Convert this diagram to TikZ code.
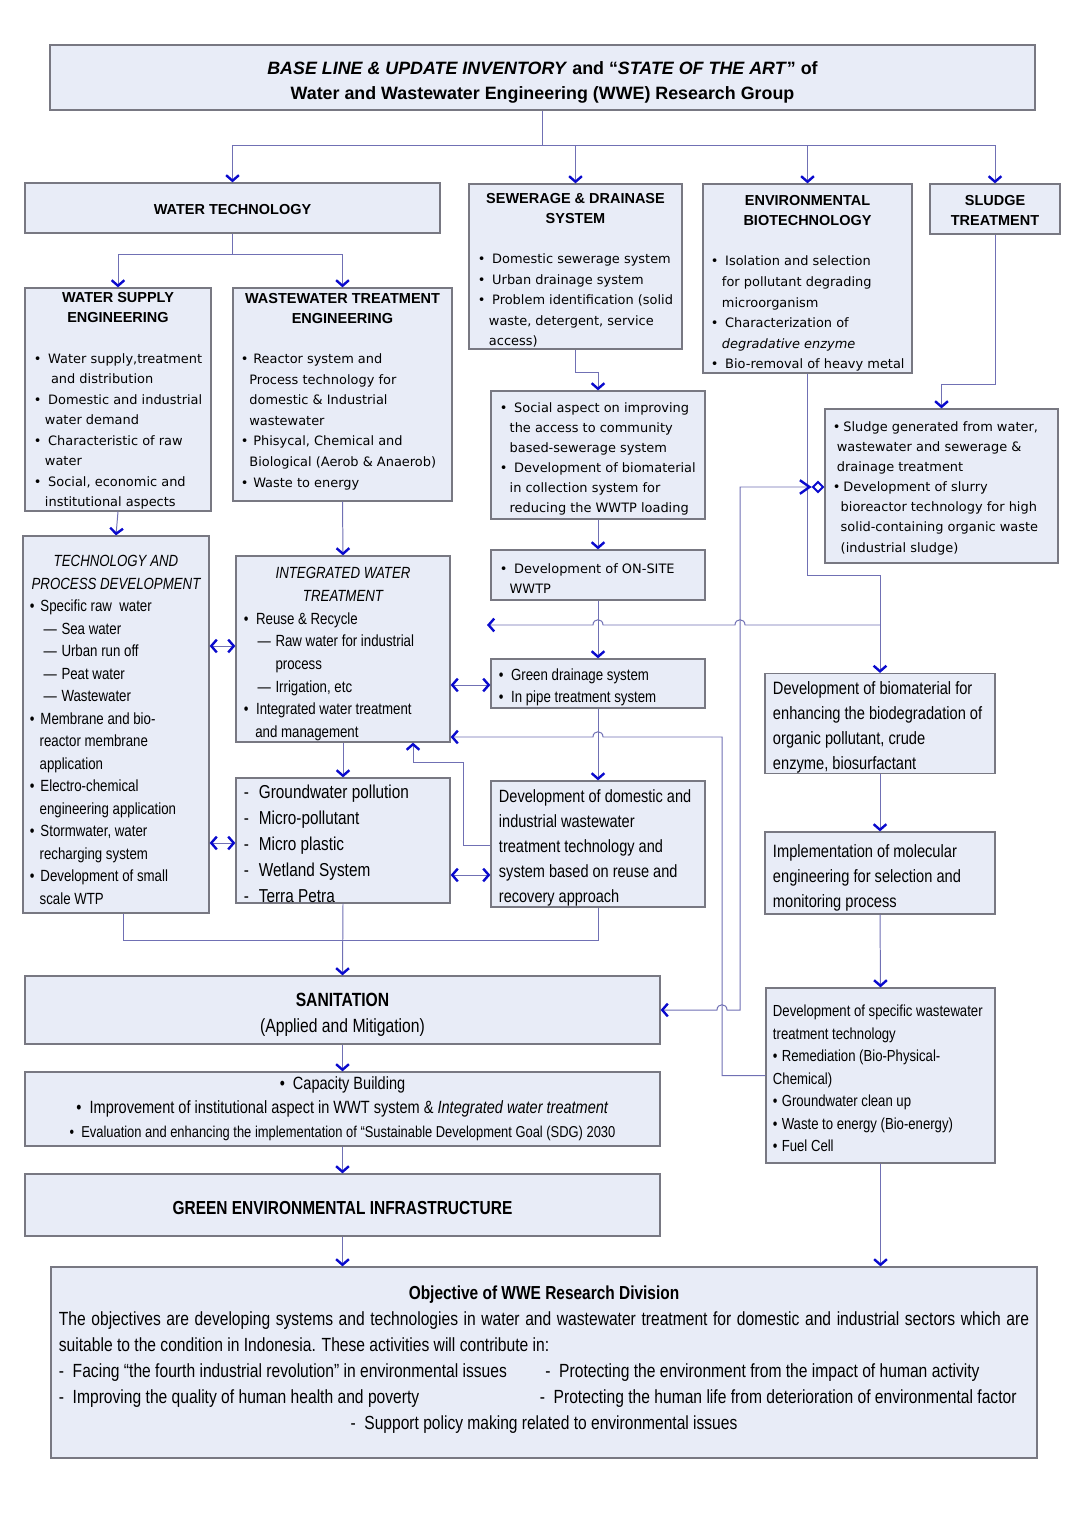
\documentclass[tikz,border=0pt]{standalone}
\usepackage{fontspec}
\setmainfont{Liberation Sans}
\newfontfamily\verdana{DejaVu Sans}
\newfontfamily\narrow[FakeStretch=0.82]{Liberation Sans}
\usepackage{xcolor}
\usepackage{tikz}
\usetikzlibrary{positioning, calc, arrows.meta}
\definecolor{wweFill}{RGB}{232, 236, 247}
\definecolor{wweEdge}{RGB}{120, 120, 130}
\definecolor{wweLine}{RGB}{112, 112, 180}
\definecolor{wweTip}{RGB}{10, 10, 205}
\newcommand{\fs}[2]{\fontsize{#1}{#2}\selectfont}
\newcommand{\titlef}{\bfseries\fs{12.7}{17.8}}
\newcommand{\headf}{\normalfont\bfseries\fs{10.3}{14.2}}
\newcommand{\verdf}{\verdana\fs{9.2}{14.6}}
\newlength{\rowwd}
\newcommand{\li}[1]{\makebox[\rowwd][l]{#1}}
\newcommand{\bul}[1][1.1em]{\makebox[#1][l]{•}}
\newcommand{\ind}[1][0.85em]{\hspace*{#1}}
\newcommand{\sub}[1]{\hspace*{0.85em}\makebox[1.1em][l]{—}#1}
\newcommand{\lift}[1]{\rule{0pt}{#1}}
\newcommand{\sink}[1]{\rule[-#1]{0pt}{#1}}
\tikzset{
    panel/.style={
        draw=wweEdge,
        fill=wweFill,
        line width=0.9pt,
        inner sep=0pt
    },
    boxspan/.style n args={4}{
        minimum width={(#3-#1)*0.025cm},
        minimum height={(#4-#2)*0.025cm},
        at={({(#1+#3)/2},{(#2+#4)/2})}
    },
    listbox/.style={
        align=center,
        execute at begin node={\setlength{\rowwd}{#1}}
    },
    link/.style={
        draw=wweLine,
        line width=0.7pt
    },
    flow/.style={
        link,
        ->
    },
    twoway/.style={
        link,
        <->
    },
    sludgetip/.style={
        link,
        {Straight Barb[color=wweTip, line width=1.7pt, length=1.4mm, width=3.2mm]}-{Straight Barb[color=wweTip, line width=1.7pt, length=2.4mm, width=3.4mm] Diamond[open, color=wweTip, line width=1.4pt, length=3.2mm, width=3.2mm]}
    }
}

\begin{document}
\begin{tikzpicture}[x=0.025cm, y=-0.025cm,
    >={Straight Barb[color=wweTip, line width=1.7pt, length=1.4mm, width=3.2mm]}]
  \useasboundingbox[fill=white] (0,0) rectangle (1086,1536);

  % Title
  \node[panel, boxspan={50}{45}{1035}{110}, align=center, font=\titlef] (title)
    {\lift{16.3pt}\textit{BASE LINE \& UPDATE INVENTORY} and “\textit{STATE OF THE ART}” of\\
     Water and Wastewater Engineering (WWE) Research Group};

  % First level
  \node[panel, boxspan={25}{183}{440}{233}, font=\headf] (wtech) {\lift{10pt}WATER TECHNOLOGY};
  \node[panel, boxspan={469}{184}{682}{349}, listbox=4.875cm, font=\verdf] (sew)
    {{\headf\lift{12.5pt}SEWERAGE \& DRAINASE}\\ {\headf SYSTEM}\\[14pt]
     \li{\bul Domestic sewerage system}\\
     \li{\bul Urban drainage system}\\
     \li{\bul Problem identification (solid}\\
     \li{\ind waste, detergent, service}\\
     \li{\ind access)}};
  \node[panel, boxspan={703}{184}{912}{373}, listbox=4.825cm, font=\verdf] (env)
    {{\headf\lift{13.9pt}ENVIRONMENTAL}\\ {\headf BIOTECHNOLOGY}\\[14pt]
     \li{\bul Isolation and selection}\\
     \li{\ind for pollutant degrading}\\
     \li{\ind microorganism}\\
     \li{\bul Characterization of}\\
     \li{\ind \textit{degradative enzyme}}\\
     \li{\bul Bio-removal of heavy metal}};
  \node[panel, boxspan={930}{184}{1060}{234}, align=center, font=\headf] (sludge)
    {\lift{9pt}SLUDGE\\TREATMENT};

  % Water technology branch
  \node[panel, boxspan={25}{288}{211}{511}, listbox=4.2cm, font=\verdf] (wsup)
    {{\headf\lift{9pt}WATER SUPPLY}\\ {\headf ENGINEERING}\\[14pt]
     \li{\bul Water supply,treatment}\\
     \li{\ind[1em] and distribution}\\
     \li{\bul Domestic and industrial}\\
     \li{\ind water demand}\\
     \li{\bul Characteristic of raw}\\
     \li{\ind water}\\
     \li{\bul Social, economic and}\\
     \li{\ind institutional aspects}};
  \node[panel, boxspan={233}{288}{452}{501}, listbox=5.075cm, font=\verdf] (wwt)
    {{\headf WASTEWATER TREATMENT}\\ {\headf ENGINEERING}\\[14pt]
     \li{\bul[0.95em]Reactor system and}\\
     \li{\ind[0.65em]Process technology for}\\
     \li{\ind[0.65em]domestic \& Industrial}\\
     \li{\ind[0.65em]wastewater}\\
     \li{\bul[0.95em]Phisycal, Chemical and}\\
     \li{\ind[0.65em]Biological (Aerob \& Anaerob)}\\
     \li{\bul[0.95em]Waste to energy\sink{6.4pt}}};

  % Sewerage chain
  \node[panel, boxspan={491}{391}{705}{519}, listbox=4.9cm, font=\verdf\fs{9.2}{14.2}] (social)
    {\li{\lift{12.6pt}\bul Social aspect on improving}\\
     \li{\ind[0.75em]the access to community}\\
     \li{\ind[0.75em]based-sewerage system}\\
     \li{\bul Development of biomaterial}\\
     \li{\ind[0.75em]in collection system for}\\
     \li{\ind[0.75em]reducing the WWTP loading}};
  \node[panel, boxspan={491}{550}{705}{600}, listbox=4.9cm, font=\verdf\fs{9.2}{14.2}] (onsite)
    {\li{\lift{12.6pt}\bul Development of ON-SITE}\\
     \li{\ind[0.75em]WWTP}};
  \node[panel, boxspan={491}{659}{705}{708}, listbox=4.95cm, font=\narrow\fs{11.5}{15.8}] (green)
    {\li{\lift{14.1pt}\bul[0.75em]Green drainage system}\\
     \li{\bul[0.75em]In pipe treatment system}};

  % Sludge chain
  \node[panel, boxspan={825}{409}{1058}{563}, listbox=5.425cm, font=\verdf\fs{9.2}{14.3}] (slbox)
    {\li{\lift{10pt}\bul[0.8em]Sludge generated from water,}\\
     \li{\ind[0.3em]wastewater and sewerage \&}\\
     \li{\ind[0.3em]drainage treatment}\\
     \li{\bul[0.8em]Development of slurry}\\
     \li{\ind[0.6em]bioreactor technology for high}\\
     \li{\ind[0.6em]solid-containing organic waste}\\
     \li{\ind[0.6em](industrial sludge)}};

  % Technology development
  \node[panel, boxspan={23}{536}{209}{913}, listbox=4.3cm, font=\narrow\fs{11.5}{16}] (tech)
    {{\itshape\lift{15.5pt}TECHNOLOGY AND}\\
     {\itshape PROCESS DEVELOPMENT}\\
     \li{\bul[0.65em]Specific raw\ \ water}\\
     \li{\sub{Sea water}}\\
     \li{\sub{Urban run off}}\\
     \li{\sub{Peat water}}\\
     \li{\sub{Wastewater}}\\
     \li{\bul[0.65em]Membrane and bio-}\\
     \li{\ind[0.6em]reactor membrane}\\
     \li{\ind[0.6em]application}\\
     \li{\bul[0.65em]Electro-chemical}\\
     \li{\ind[0.6em]engineering application}\\
     \li{\bul[0.65em]Stormwater, water}\\
     \li{\ind[0.6em]recharging system}\\
     \li{\bul[0.65em]Development of small}\\
     \li{\ind[0.6em]scale WTP}};
  \node[panel, boxspan={236}{556}{450}{742}, listbox=4.95cm, font=\narrow\fs{11.5}{16.1}] (iwt)
    {{\itshape\lift{15.5pt}INTEGRATED WATER}\\
     {\itshape TREATMENT}\\
     \li{\bul[0.75em]Reuse \& Recycle}\\
     \li{\sub{Raw water for industrial}}\\
     \li{\ind[1.95em]process}\\
     \li{\sub{Irrigation, etc}}\\
     \li{\bul[0.75em]Integrated water treatment}\\
     \li{\ind[0.7em]and management}};
  \node[panel, boxspan={236}{778}{450}{903}, listbox=4.95cm, font=\narrow\fs{13.3}{18.5}] (pol)
    {\li{\lift{14pt}\makebox[0.8em][l]{-}Groundwater pollution}\\
     \li{\makebox[0.8em][l]{-}Micro-pollutant}\\
     \li{\makebox[0.8em][l]{-}Micro plastic}\\
     \li{\makebox[0.8em][l]{-}Wetland System}\\
     \li{\makebox[0.8em][l]{-}Terra Petra}};
  \node[panel, boxspan={491}{781}{705}{907}, listbox=4.95cm, font=\narrow\fs{12.6}{17.8}] (dom)
    {\li{\lift{14.9pt}Development of domestic and}\\
     \li{industrial wastewater}\\
     \li{treatment technology and}\\
     \li{system based on reuse and}\\
     \li{recovery approach}};

  % Biotechnology chain
  \node[panel, boxspan={765}{674}{995}{773}, listbox=5.35cm, font=\narrow\fs{12.7}{17.8}] (biomat)
    {\li{\lift{15pt}Development of biomaterial for}\\
     \li{enhancing the biodegradation of}\\
     \li{organic pollutant, crude}\\
     \li{enzyme, biosurfactant}};
  \node[panel, boxspan={765}{832}{995}{914}, listbox=5.35cm, font=\narrow\fs{12.7}{17.8}] (impl)
    {\li{\lift{16.4pt}Implementation of molecular}\\
     \li{engineering for selection and}\\
     \li{monitoring process}};
  \node[panel, boxspan={766}{988}{995}{1163}, listbox=5.375cm, font=\narrow\fs{11.4}{16}] (spec)
    {\li{\lift{12.6pt}Development of specific wastewater}\\
     \li{treatment technology}\\
     \li{\bul[0.55em]Remediation (Bio-Physical-}\\
     \li{Chemical)}\\
     \li{\bul[0.55em]Groundwater clean up}\\
     \li{\bul[0.55em]Waste to energy (Bio-energy)}\\
     \li{\bul[0.55em]Fuel Cell}};

  % Lower stack
  \node[panel, boxspan={25}{976}{660}{1044}, align=center, font=\narrow\fs{13.6}{18.5}] (san)
    {{\bfseries\lift{16.9pt}SANITATION}\\ (Applied and Mitigation)};
  \node[panel, boxspan={25}{1072}{660}{1146}, align=center, font=\narrow\fs{12.6}{17.2}] (cap)
    {•\ \ Capacity Building\\
     •\ \ Improvement of institutional aspect in WWT system \& \textit{Integrated water treatment}\\
     {\fs{11.2}{17.2}•\ \ Evaluation and enhancing the implementation of “Sustainable Development Goal (SDG) 2030}};
  \node[panel, boxspan={25}{1174}{660}{1236}, font=\narrow\bfseries\fs{13.4}{18}] (gei)
    {\lift{13.9pt}GREEN ENVIRONMENTAL INFRASTRUCTURE};
  \node[panel, boxspan={51}{1267}{1037}{1458}, listbox=24.25cm, font=\narrow\fs{13.55}{18.5}] (obj)
    {{\bfseries\fs{13.4}{18.5}Objective of WWE Research Division}\\
     \makebox[\rowwd][s]{The objectives are developing systems and technologies in water and wastewater treatment for domestic and industrial sectors which are}\\
     \li{suitable to the condition in Indonesia. These activities will contribute in:}\\
     \li{\makebox[346pt][l]{-\ \ Facing “the fourth industrial revolution” in environmental issues}-\ \ Protecting the environment from the impact of human activity}\\
     \li{\makebox[342pt][l]{-\ \ Improving the quality of human health and poverty}-\ \ Protecting the human life from deterioration of environmental factor}\\
     {\fs{13.5}{18.5}-\ \ Support policy making related to environmental issues\sink{6.5pt}}};

  % Turning points
  \coordinate (tbar) at (542.5,145);
  \coordinate (wbar) at (232.5,254);
  \coordinate (sbar) at (575.5,372);
  \coordinate (ebar) at (880,575);
  \coordinate (ljoin) at (995,384);
  \coordinate (bjoin) at (880,625);
  \coordinate (lost) at (487,625);
  \coordinate (rjoin) at (722,737);
  \coordinate (sjoin) at (740,1010);
  \coordinate (sltop) at (740,487);
  \coordinate (kjoin) at (463,762);
  \coordinate (mjoin) at (343,940);

  % Top tree
  \draw[link] (title.south) -- (tbar);
  \draw[flow] (tbar) -| (wtech.north);
  \draw[flow] (tbar) -| (sew.north);
  \draw[flow] (tbar) -| (env.north);
  \draw[flow] (tbar) -| (sludge.north);
  \draw[link] (wtech.south) -- (wbar);
  \draw[flow] (wbar) -| (wsup.north);
  \draw[flow] (wbar) -| (wwt.north);

  % Vertical chains
  \draw[flow] (sew.south) |- (sbar) -| (social.north);
  \draw[flow] (social.south) -- (onsite.north);
  \draw[flow] (onsite.south) -- (green.north);
  \draw[flow] (green.south) -- (dom.north);
  \draw[flow] (sludge.south) -- (ljoin) -| (slbox.north);
  \draw[flow] (env.south) |- (ebar) -- (biomat.north);
  \draw[flow] (biomat.south) -- (impl.north);
  \draw[flow] (impl.south) -- (spec.north);
  \draw[flow] (spec.south) -- (spec.south |- obj.north);
  \draw[flow] (wsup.south) -- (tech.north);
  \draw[flow] (wwt.south) -- (iwt.north);
  \draw[flow] (iwt.south) -- (pol.north);

  % Side links
  \draw[twoway] (tech.east |- 0,646) -- (iwt.west |- 0,646);
  \draw[twoway] (tech.east |- 0,843) -- (pol.west |- 0,843);
  \draw[twoway] (iwt.east |- 0,685) -- (green.west |- 0,685);
  \draw[twoway] (pol.east |- 0,875) -- (dom.west |- 0,875);
  \draw[flow] (dom.west |- 0,845) -| (kjoin) -| ($(iwt.south)+(70,0)$);

  % Crossing lines
  \draw[flow] (bjoin) -- (745,625) .. controls (745,618) and (735,618) .. (735,625)
    -- (603,625) .. controls (603,618) and (593,618) .. (593,625) -- (lost);
  \draw[flow] (spec.west) -| (rjoin) -- (603,737) .. controls (603,730) and (593,730) .. (593,737)
    -- (iwt.east |- rjoin);
  \draw[sludgetip] (san.east) -- (717,1010) .. controls (717,1003) and (727,1003) .. (727,1010)
    -- (sjoin) -- (sltop) -- (slbox.west |- sltop);

  % Bottom stack
  \draw[link] ($(tech.south)+(7,0)$) |- (mjoin);
  \draw[link] (dom.south) |- (mjoin);
  \draw[flow] (pol.south) -- (san.north);
  \draw[flow] (san.south) -- (cap.north);
  \draw[flow] (cap.south) -- (gei.north);
  \draw[flow] (gei.south) -- (gei.south |- obj.north);
\end{tikzpicture}
\end{document}
